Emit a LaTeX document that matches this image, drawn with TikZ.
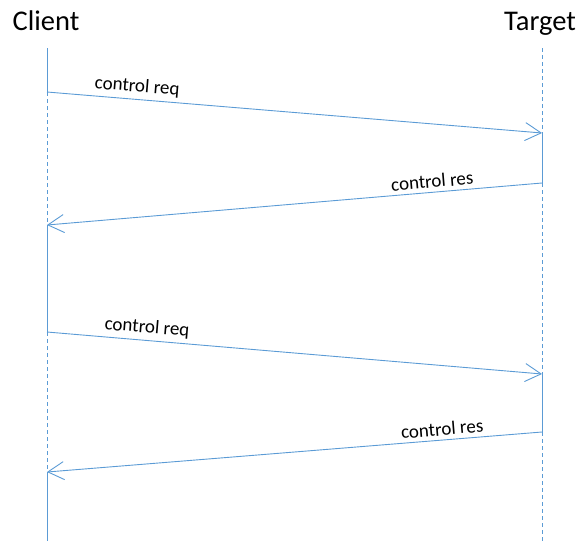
\documentclass[tikz,border=0pt]{standalone}
\usepackage{fontspec}
\setmainfont{Carlito}
\usetikzlibrary{arrows.meta}
\definecolor{lineBlue}{RGB}{91,155,213}

\def \xClient {47}
\def \xTarget {542}
\def \yTop {48}
\def \yBottom {541}

\begin{document}
\begin{tikzpicture}[x=1pt, y=-1pt,
    life/.style={draw=lineBlue, line width=0.9pt},
    idle/.style={life, dash pattern=on 4pt off 3pt},
    msg/.style={draw=lineBlue, line width=0.9pt, -{Straight Barb[length=16pt,width=18pt]}},
    lbl/.style={font=\fontsize{19}{19}\selectfont, sloped, above, inner sep=4pt},
    head/.style={font=\fontsize{28.5}{28.5}\selectfont, anchor=base}]
      \useasboundingbox (0,0) rectangle (581,542);
      \node[head] (client) at (46,30) {Client};
      \node[head] (target) at (540,30) {Target};
      % message end points
      \coordinate (cTop) at (\xClient,\yTop);
      \coordinate (cReqA) at (\xClient,92);
      \coordinate (cResA) at (\xClient,225);
      \coordinate (cReqB) at (\xClient,332);
      \coordinate (cResB) at (\xClient,472);
      \coordinate (cEnd) at (\xClient,\yBottom);
      \coordinate (tTop) at (\xTarget,\yTop);
      \coordinate (tReqA) at (\xTarget,133);
      \coordinate (tResA) at (\xTarget,183);
      \coordinate (tReqB) at (\xTarget,374);
      \coordinate (tResB) at (\xTarget,432);
      \coordinate (tEnd) at (\xTarget,\yBottom);
      % client lifeline
      \draw[life] (cTop) -- (cReqA);
      \draw[idle] (cReqA) -- (cResA);
      \draw[life] (cResA) -- (cReqB);
      \draw[idle] (cReqB) -- (cResB);
      \draw[life] (cResB) -- (cEnd);
      % target lifeline
      \draw[idle] (tTop) -- (tReqA);
      \draw[life] (tReqA) -- (tResA);
      \draw[idle] (tResA) -- (tReqB);
      \draw[life] (tReqB) -- (tResB);
      \draw[idle] (tResB) -- (tEnd);
      % messages
      \draw[msg] (cReqA) -- node[lbl, pos=0.18] {control req} (tReqA);
      \draw[msg] (tResA) -- node[lbl, pos=0.22] {control res} (cResA);
      \draw[msg] (cReqB) -- node[lbl, pos=0.2] {control req} (tReqB);
      \draw[msg] (tResB) -- node[lbl, pos=0.2] {control res} (cResB);
   \end{tikzpicture}
\end{document}
